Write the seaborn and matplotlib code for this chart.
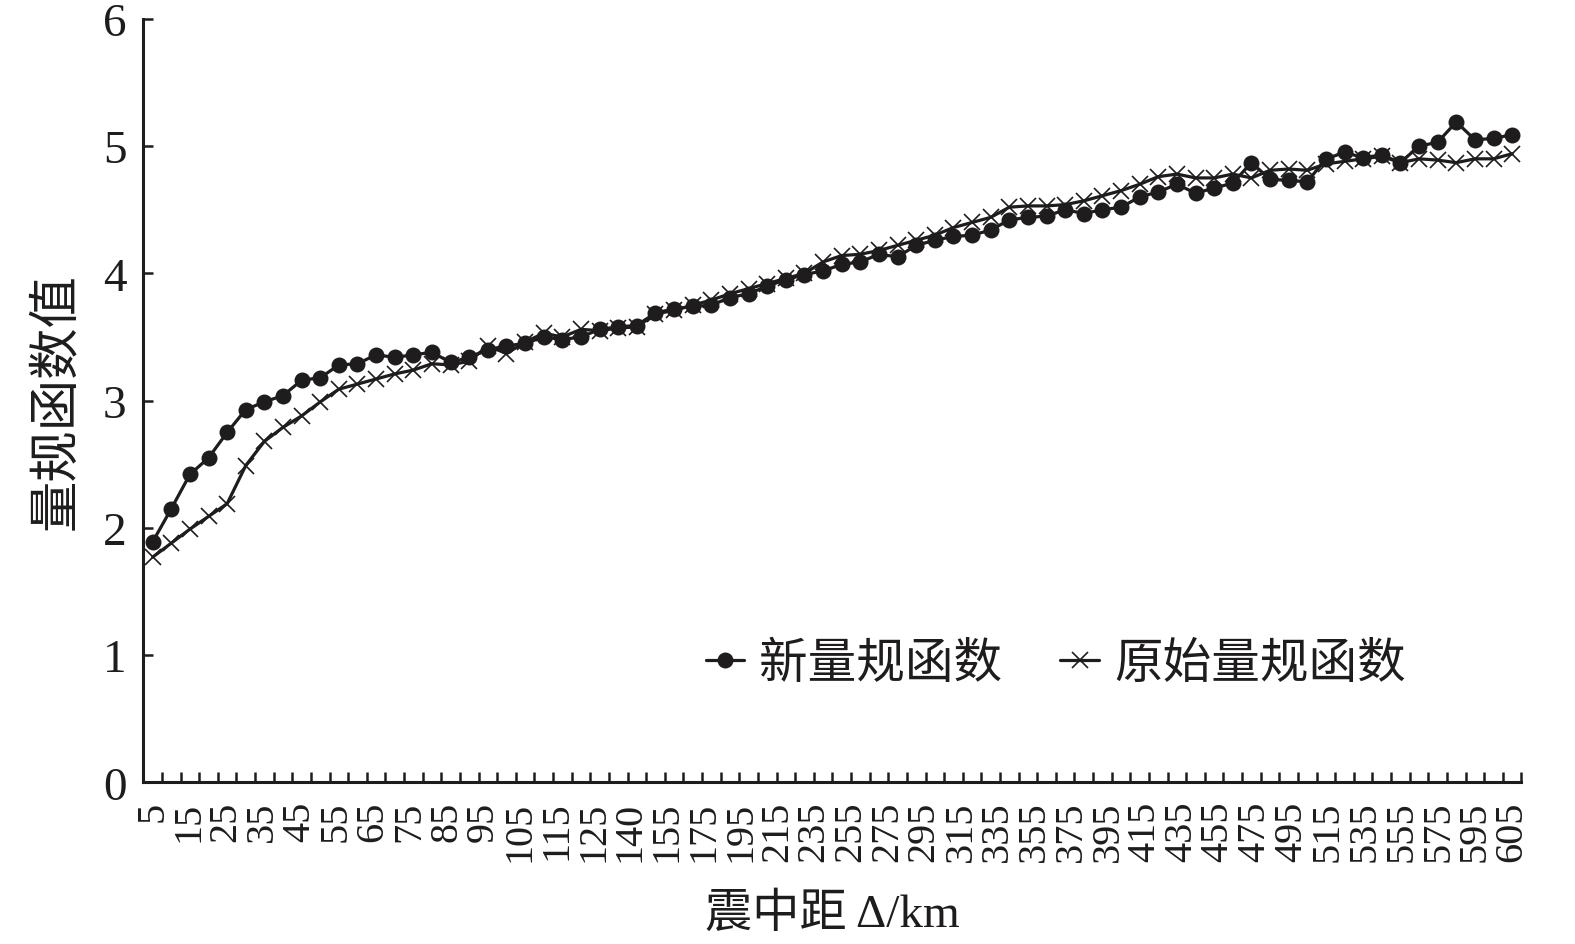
import numpy as np
import pandas as pd
import matplotlib
matplotlib.use("Agg")
import matplotlib.pyplot as plt
from matplotlib.ticker import FixedLocator, MultipleLocator
import seaborn as sns

# tick labels along the distance axis (shown every other category)
dist_labels = ["5", "15", "25", "35", "45", "55", "65", "75", "85", "95", "105", "115",
               "125", "140", "155", "175", "195", "215", "235", "255", "275", "295",
               "315", "335", "355", "375", "395", "415", "435", "455", "475", "495",
               "515", "535", "555", "575", "595", "605"]

# new calibration function (dots)
new_vals = [1.89, 2.15, 2.42, 2.55, 2.75, 2.93, 2.99, 3.04, 3.16, 3.18,
            3.28, 3.29, 3.36, 3.34, 3.36, 3.38, 3.30, 3.34, 3.40, 3.43,
            3.45, 3.50, 3.48, 3.50, 3.56, 3.58, 3.59, 3.69, 3.72, 3.74,
            3.75, 3.81, 3.84, 3.90, 3.95, 3.99, 4.02, 4.07, 4.09, 4.15,
            4.13, 4.22, 4.26, 4.29, 4.30, 4.34, 4.42, 4.44, 4.45, 4.50,
            4.47, 4.50, 4.52, 4.60, 4.64, 4.70, 4.63, 4.67, 4.71, 4.87,
            4.74, 4.73, 4.72, 4.90, 4.95, 4.91, 4.93, 4.87, 5.00, 5.03,
            5.19, 5.05, 5.06, 5.09]

# original calibration function (crosses)
old_vals = [1.77, 1.88, 1.99, 2.09, 2.19, 2.49, 2.68, 2.79, 2.88, 2.99,
            3.09, 3.13, 3.17, 3.21, 3.24, 3.29, 3.28, 3.31, 3.43, 3.37,
            3.46, 3.53, 3.50, 3.56, 3.55, 3.57, 3.58, 3.68, 3.71, 3.75,
            3.79, 3.84, 3.88, 3.92, 3.96, 4.00, 4.09, 4.14, 4.15, 4.18,
            4.22, 4.26, 4.30, 4.36, 4.40, 4.44, 4.52, 4.53, 4.53, 4.54,
            4.57, 4.61, 4.65, 4.70, 4.76, 4.78, 4.75, 4.75, 4.78, 4.75,
            4.81, 4.82, 4.81, 4.86, 4.88, 4.90, 4.92, 4.87, 4.90, 4.89,
            4.87, 4.90, 4.90, 4.94]

INK = "#1e1c1d"

sns.set_theme(style="white")
plt.rcParams["font.family"] = ["Liberation Serif", "Noto Sans CJK SC", "DejaVu Sans"]

df = pd.DataFrame({"idx": np.arange(len(new_vals)), "new": new_vals, "old": old_vals})

fig, ax = plt.subplots(figsize=(15.75, 9.45), dpi=100)
fig.subplots_adjust(left=0.091, right=0.966, top=0.979, bottom=0.171)

sns.lineplot(data=df, x="idx", y="new", ax=ax, color=INK, linewidth=2.3,
             marker="o", markersize=11.5, markeredgewidth=0, label="新量规函数")
sns.lineplot(data=df, x="idx", y="old", ax=ax, color=INK, linewidth=2.3,
             marker="x", markersize=11, markeredgewidth=1.2, markeredgecolor=INK,
             label="原始量规函数")

n = len(new_vals)
ax.set_xlim(-0.5, n - 0.5)
ax.set_ylim(0, 6)

# labels on every other category, tick marks between categories
ax.xaxis.set_major_locator(FixedLocator(np.linspace(0, n - 1, len(dist_labels))))
ax.set_xticklabels(dist_labels, rotation=90, fontsize=29)
ax.xaxis.set_minor_locator(FixedLocator(np.arange(n + 1) - 0.5))
ax.tick_params(axis="x", which="major", length=0, pad=13, colors=INK)
ax.tick_params(axis="x", which="minor", direction="in", length=7, width=1.8,
               bottom=True, color=INK)

ax.yaxis.set_major_locator(MultipleLocator(1))
ax.tick_params(axis="y", which="major", direction="in", length=7, width=1.8,
               left=True, labelsize=34, pad=12, colors=INK)

for side in ["top", "right"]:
    ax.spines[side].set_visible(False)
for side in ["left", "bottom"]:
    ax.spines[side].set_color(INK)
    ax.spines[side].set_linewidth(2.2)

ax.set_xlabel("震中距 Δ/km", fontsize=34, color=INK, labelpad=22)
ax.set_ylabel("量规函数值", fontsize=37, color=INK, labelpad=16)

ax.legend(loc="center", bbox_to_anchor=(0.662, 0.155), ncol=2, frameon=False,
          fontsize=35, handlelength=0.8, handletextpad=0.3, columnspacing=1.2,
          labelcolor=INK)

ax.grid(False)
fig.savefig("out.png", dpi=100)
